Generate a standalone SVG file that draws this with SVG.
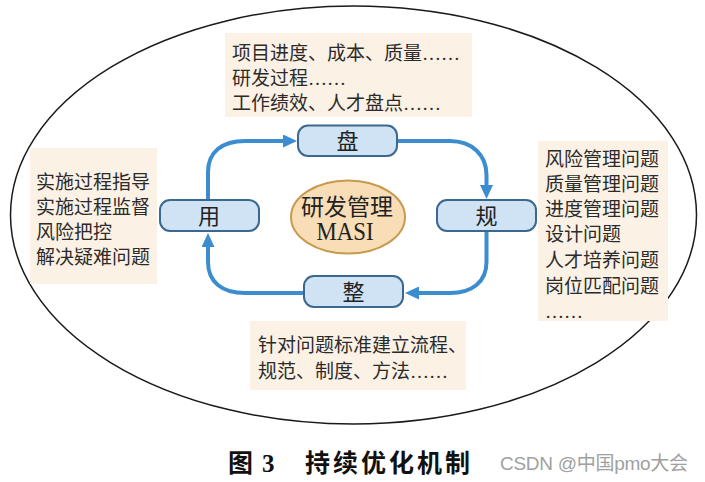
<svg xmlns="http://www.w3.org/2000/svg" width="705" height="482" viewBox="0 0 705 482">
<style>
.t{font-family:"Liberation Serif","Noto Sans CJK SC",serif;font-size:19px;fill:#2b2b2b}
.lbl{font-family:"Liberation Serif","Noto Sans CJK SC",serif;font-size:22px;fill:#222;text-anchor:middle}
.box{fill:#fcf1e5}
.node{fill:#cfe3f5;stroke:#3c6890;stroke-width:2}
.arr{fill:none;stroke:#3b8dd0;stroke-width:4}
.cap{font-family:"Liberation Serif","Noto Sans CJK SC",serif;font-size:25px;font-weight:bold;fill:#111}
.wm{font-family:"Liberation Sans","Noto Sans CJK SC",sans-serif;font-size:19px;fill:#a0a0a0}
</style>
<defs>
<marker id="ah" viewBox="0 0 14 13" refX="4" refY="6.5" markerWidth="14" markerHeight="13" markerUnits="userSpaceOnUse" orient="auto">
<path d="M0,0 L14,6.5 L0,13 z" fill="#3b8dd0"/>
</marker>
</defs>
<rect width="705" height="482" fill="#ffffff"/>
<ellipse id="outer" cx="353.5" cy="215" rx="343" ry="209" fill="none" stroke="#1a1a1a" stroke-width="1.5"/>

<g id="top-box">
<rect class="box" x="225" y="33" width="247" height="84"/>
<text class="t" x="232" y="60">项目进度、成本、质量……</text>
<text class="t" x="232" y="85">研发过程……</text>
<text class="t" x="232" y="110">工作绩效、人才盘点……</text>
</g>
<g id="left-box">
<rect class="box" x="30" y="148" width="127" height="136"/>
<text class="t" x="36" y="189">实施过程指导</text>
<text class="t" x="36" y="214">实施过程监督</text>
<text class="t" x="36" y="239">风险把控</text>
<text class="t" x="36" y="264">解决疑难问题</text>
</g>
<g id="right-box">
<rect class="box" x="538" y="141" width="130" height="180"/>
<text class="t" x="545" y="166">风险管理问题</text>
<text class="t" x="545" y="191">质量管理问题</text>
<text class="t" x="545" y="216">进度管理问题</text>
<text class="t" x="545" y="241">设计问题</text>
<text class="t" x="545" y="267">人才培养问题</text>
<text class="t" x="545" y="293">岗位匹配问题</text>
<text class="t" x="545" y="318">……</text>
</g>
<g id="bottom-box">
<rect class="box" x="250" y="321" width="216" height="69"/>
<text class="t" x="258" y="352">针对问题标准建立流程、</text>
<text class="t" x="258" y="378">规范、制度、方法……</text>
</g>

<g id="connectors">
<path class="arr" d="M208,200 L208,172 C208,152 222,141 245,141 L287,141" marker-end="url(#ah)"/>
<path class="arr" d="M398,141 L450,141 C472,141 486.5,155 486.5,175 L486.5,189" marker-end="url(#ah)"/>
<path class="arr" d="M486.5,231 L486.5,262 C486.5,282 472,293 450,293 L415,293" marker-end="url(#ah)"/>
<path class="arr" d="M304,293 L245,293 C222,293 208,282 208,262 L208,243" marker-end="url(#ah)"/>
</g>

<g id="node-pan">
<rect class="node" x="298" y="125.5" width="99" height="30.5" rx="10"/>
<text class="lbl" x="347.5" y="149">盘</text>
</g>
<g id="node-gui">
<rect class="node" x="437" y="200" width="99" height="31" rx="10"/>
<text class="lbl" x="486.5" y="224">规</text>
</g>
<g id="node-zheng">
<rect class="node" x="304" y="276" width="99" height="31" rx="10"/>
<text class="lbl" x="353.5" y="300">整</text>
</g>
<g id="node-yong">
<rect class="node" x="160" y="200" width="99" height="31" rx="10"/>
<text class="lbl" x="209" y="224">用</text>
</g>
<g id="center">
<ellipse cx="348" cy="217" rx="57" ry="36.5" fill="#f8ddb6" stroke="#c79a4e" stroke-width="2"/>
<text class="lbl" x="347" y="215" style="font-size:23px">研发管理</text>
<text class="lbl" x="345" y="240" style="font-size:25px" textLength="57" lengthAdjust="spacingAndGlyphs">MASI</text>
</g>

<g id="caption">
<text class="cap" x="228" y="472">图</text>
<text class="cap" x="262" y="472">3</text>
<text class="cap" x="305" y="472" style="letter-spacing:3px">持续优化机制</text>
<text class="wm" x="500" y="470" textLength="188">CSDN @中国pmo大会</text>
</g>
</svg>
